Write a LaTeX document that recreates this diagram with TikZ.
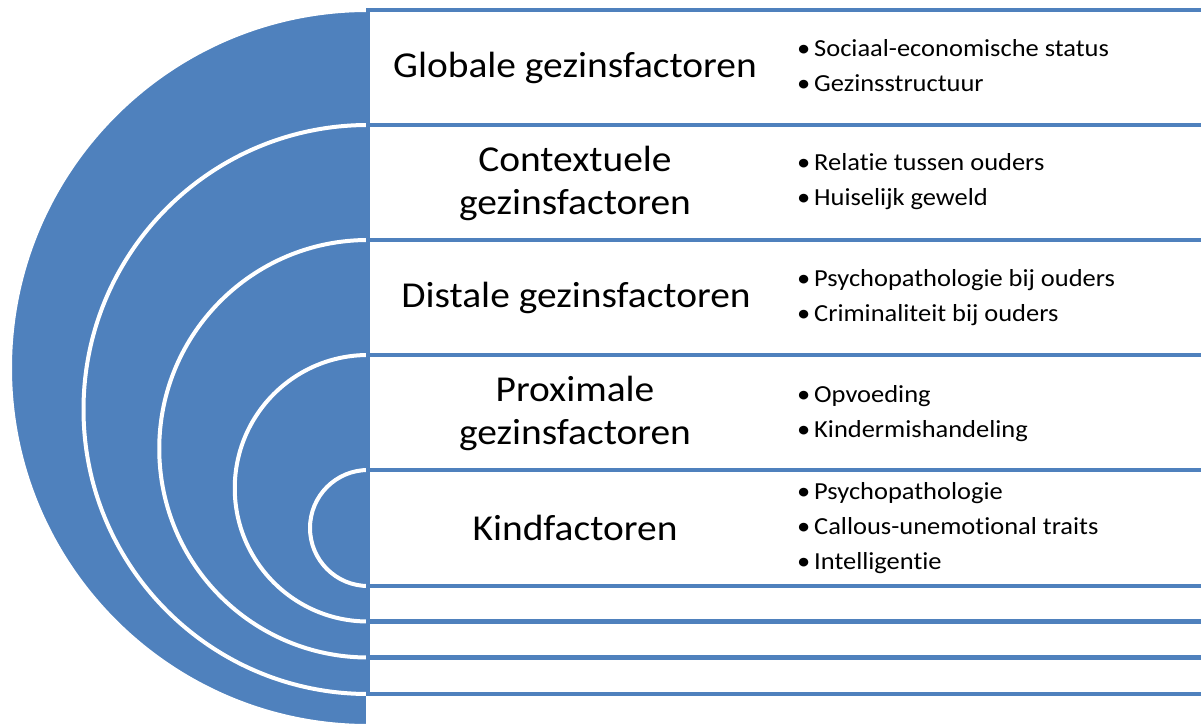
\documentclass[tikz,border=0pt]{standalone}
\usepackage{fontspec}
\setmainfont{Carlito}[FakeStretch=1.08,Ligatures={NoCommon}]
\definecolor{accent}{RGB}{79,129,189}
\newcommand\bulmark{\makebox[17pt][l]{•}}
\begin{document}
\begin{tikzpicture}[x=1pt,y=-1pt,
  ring/.style={fill=accent,draw=white,line width=4pt},
  rowbox/.style={draw=accent,fill=white,line width=4.5pt},
  title/.style={font=\fontsize{36.5}{43}\selectfont,align=center,text=black,inner sep=0pt},
  items/.style={font=\fontsize{24.5}{35}\selectfont,align=left,anchor=west,inner sep=0pt,text=black}]
\useasboundingbox (0,0) rectangle (1201,727);
\clip (0,0) rectangle (1201,727);
\foreach \t/\b in {10/726,125/694,240/657.5,355/621.5,470/586}{
  \pgfmathsetmacro\r{(\b-\t)/2}
  \draw[ring] (368,\t) arc[start angle=270,end angle=90,radius=\r] -- cycle;
}
\foreach \t/\b in {10/125,125/240,240/355,355/470,470/586,586/621.5,621.5/657.5,657.5/694}
  \draw[rowbox] (368,\t) rectangle (1215,\b);
\node[title] (t1) at (575,68) {Globale gezinsfactoren};
\node[title] (t2) at (575,183) {Contextuele\\gezinsfactoren};
\node[title] (t3) at (576,298) {Distale gezinsfactoren};
\node[title] (t4) at (575,413) {Proximale\\gezinsfactoren};
\node[title] (t5) at (575,528) {Kindfactoren};
\node[items] (b1) at (797,66) {\bulmark Sociaal-economische status\\\bulmark Gezinsstructuur};
\node[items] (b2) at (797,182) {\bulmark Relatie tussen ouders\\\bulmark Huiselijk geweld};
\node[items] (b3) at (797,298) {\bulmark Psychopathologie bij ouders\\\bulmark Criminaliteit bij ouders};
\node[items] (b4) at (797,414) {\bulmark Opvoeding\\\bulmark Kindermishandeling};
\node[items] (b5) at (797,528) {\bulmark Psychopathologie\\\bulmark Callous-unemotional traits\\\bulmark Intelligentie};
\end{tikzpicture}
\end{document}
